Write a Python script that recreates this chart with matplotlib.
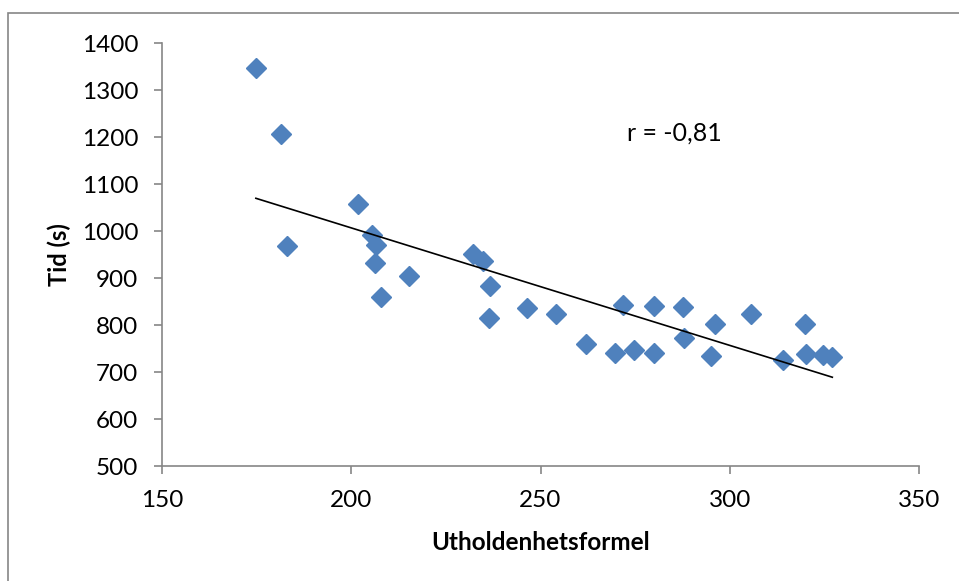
import matplotlib
matplotlib.use("Agg")
import matplotlib.pyplot as plt
import numpy as np
from matplotlib.patches import Rectangle

x_vals = [174.8, 181.4, 183.0, 201.7, 205.6, 206.5, 206.3, 215.2, 207.9, 232.1,
          234.7, 236.6, 236.3, 246.4, 254.0, 261.9, 269.7, 274.8, 271.9, 280.1,
          280.0, 287.7, 287.9, 296.1, 295.0, 305.7, 314.1, 319.9, 320.1, 324.7, 327.1]
y_vals = [1348, 1207, 968, 1057, 992, 970, 932, 905, 860, 952,
          936, 883, 816, 837, 823, 759, 740, 747, 843, 740,
          841, 839, 772, 802, 735, 823, 726, 803, 739, 737, 733]
x_ticks = [150, 200, 250, 300, 350]
y_ticks = [500, 600, 700, 800, 900, 1000, 1100, 1200, 1300, 1400]
x_label = "Utholdenhetsformel"
y_label = "Tid (s)"
annotation = "r = -0,81"

plt.rcParams['font.family'] = ['Lato', 'DejaVu Sans']
W, H = 959, 581
fig = plt.figure(figsize=(W/100, H/100), dpi=100)
ax = fig.add_axes([162/W, 1-466/H, (919-162)/W, (466-43.3)/H])

# outer chart border (left/top visible)
fig.patches.append(Rectangle((8/W, -0.1), 1.2, (H-13)/H + 0.1, transform=fig.transFigure,
                             fill=False, edgecolor='#868686', linewidth=1.2))

x = np.array(x_vals); y = np.array(y_vals)
ax.plot(x, y, linestyle='none', marker='D', markersize=10, color='#4F81BD', zorder=3)
k, b = np.polyfit(x, y, 1)
xs = np.array([x.min(), x.max()])
ax.plot(xs, k*xs + b, color='black', linewidth=1.2, zorder=4)

ax.set_xlim(150, 350)
ax.set_ylim(500, 1400)
ax.set_xticks(x_ticks)
ax.set_yticks(y_ticks)
for s in ['top', 'right']:
    ax.spines[s].set_visible(False)
for s in ['left', 'bottom']:
    ax.spines[s].set_color('#868686')
    ax.spines[s].set_linewidth(1.2)
ax.tick_params(axis='both', direction='out', length=6, width=1.2, color='#868686',
               labelsize=17.5, labelcolor='black')
ax.tick_params(axis='y', pad=11)
ax.tick_params(axis='x', pad=11)
ax.set_xlabel(x_label, fontsize=17.5, fontweight='bold', labelpad=15)
ax.set_ylabel(y_label, fontsize=17, fontweight='bold', labelpad=8)
ax.text(285.5, 1209, annotation, fontsize=18, ha='center', va='center')

fig.savefig("out.png", dpi=100)
